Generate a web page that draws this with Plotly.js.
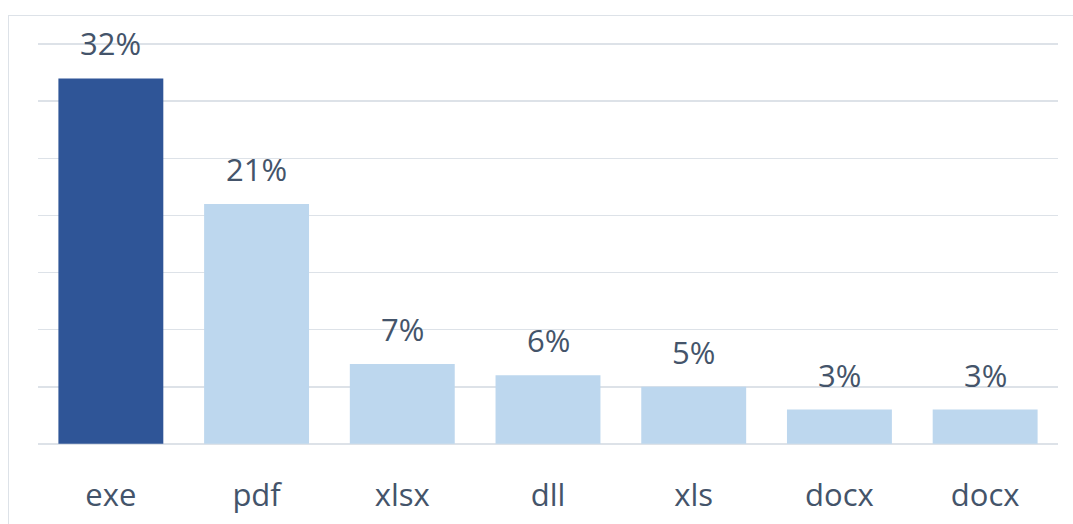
<!DOCTYPE html>
<html>
<head>
<meta charset="utf-8">
<script src="https://cdn.plot.ly/plotly-3.0.1.min.js"></script>
<style>
html,body{margin:0;padding:0;background:#fff;overflow:hidden;}
#frame{position:absolute;left:8px;top:15px;width:1070px;height:520px;border:1.5px solid #dde2e8;box-sizing:border-box;}
#chart{position:absolute;left:0;top:0;width:1073px;height:524px;}
</style>
</head>
<body>
<div id="frame"></div>
<div id="chart"></div>
<script>
const categories = ["exe","pdf","xlsx","dll","xls","docx","docx"];
const values = [32, 21, 7, 6, 5, 3, 3];
const labels = ["32%","21%","7%","6%","5%","3%","3%"];

const positions = categories.map((c, i) => i);
const colors = categories.map((c, i) => i === 0 ? "#2F5597" : "#BDD7EE");
const textColor = "#44546A";
const fontFam = "Open Sans, sans-serif";

const trace = {
  type: "bar",
  x: positions,
  y: values,
  marker: {color: colors},
  hoverinfo: "skip"
};

const annotations = positions.map((p, i) => ({
  x: p, y: values[i], xref: "x", yref: "y",
  text: labels[i], showarrow: false,
  yanchor: "middle", yshift: 35,
  font: {family: fontFam, size: 31, color: textColor}
}));

const layout = {
  width: 1073, height: 524,
  margin: {l: 38, r: 15, t: 43, b: 79},
  paper_bgcolor: "rgba(0,0,0,0)",
  plot_bgcolor: "rgba(0,0,0,0)",
  bargap: 0.28,
  showlegend: false,
  xaxis: {
    tickmode: "array", tickvals: positions, ticktext: categories,
    range: [-0.5, categories.length - 0.5],
    showgrid: false, zeroline: false, showline: false,
    ticks: "", ticklabelstandoff: 29,
    tickfont: {family: fontFam, size: 31, color: textColor}
  },
  yaxis: {
    range: [-0.1, 35.1], dtick: 5, tick0: 0,
    showgrid: true, gridcolor: "#dde2e8", gridwidth: 1.5,
    zeroline: false, showline: false, showticklabels: false, ticks: ""
  },
  annotations: annotations
};

Plotly.newPlot("chart", [trace], layout, {displayModeBar: false, staticPlot: true});
</script>
</body>
</html>
